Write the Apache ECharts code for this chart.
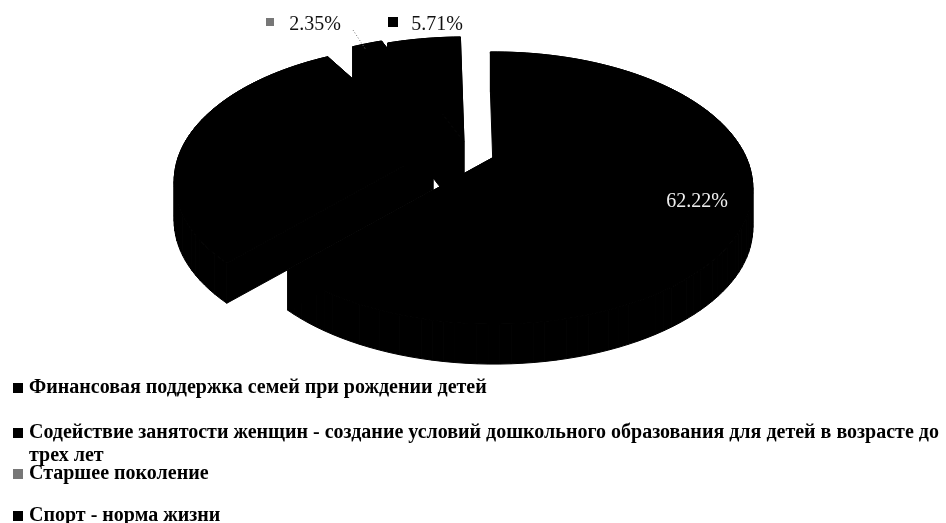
<!DOCTYPE html>
<html>
<head>
<meta charset="utf-8">
<style>html,body{margin:0;padding:0;background:#fff}#c{width:946px;height:523px}</style>
<script src="https://cdn.jsdelivr.net/npm/echarts@6/dist/echarts.min.js"></script>
</head>
<body>
<div id="c"></div>
<script>
const categories = [
  'Финансовая поддержка семей при рождении детей',
  'Содействие занятости женщин - создание условий дошкольного образования для детей в возрасте до',
  'Старшее поколение',
  'Спорт - норма жизни'
];
const categoryTail = 'трех лет';
const values = [62.22, 29.72, 2.35, 5.71];
const shownLabels = [true, false, true, true];

// Drawing style of the tilted, exploded pie
const firstAngle = -1, radiusX = 252, radiusY = 129, tilt = 0.228;
const depths = [40, 40, 40, 76];
const apexes = [[494,157],[433,150],[458,140],[464,142]];
const labelPlaces = [[697,202],null,[315,25],[437,25]];
const keyPlaces = [null,null,[270,22],[393,22]];
const colors = ['#000','#000','#000','#000'];
const keyColors = ['#000','#000','#777','#000'];
const font = '"Liberation Serif", serif';

function project(i, deg) {
  const t = deg * Math.PI / 180, u = Math.sin(t), v = -Math.cos(t), w = 1 - tilt * v;
  return [apexes[i][0] + radiusX * u / w, apexes[i][1] + radiusY * v / w];
}
const total = values.reduce((a, b) => a + b, 0);
function sliceShape(i) {
  let from = firstAngle;
  for (let k = 0; k < i; k++) from += values[k] / total * 360;
  const sweep = values[i] / total * 360, rim = [];
  const steps = Math.max(6, Math.ceil(sweep / 2));
  for (let s = 0; s <= steps; s++) rim.push(project(i, from + sweep * s / steps));
  const outline = [apexes[i]].concat(rim);
  const fill = { fill: colors[i], stroke: colors[i], lineWidth: 1 };
  const children = [];
  outline.forEach((p, n) => {
    const q = outline[(n + 1) % outline.length];
    children.push({ type: 'polygon', shape: { points: [p, q, [q[0], q[1] + depths[i]], [p[0], p[1] + depths[i]]] }, style: fill });
  });
  children.push({ type: 'polygon', shape: { points: outline }, style: fill });
  return children;
}
function marks(i) {
  const out = [];
  if (!shownLabels[i]) return out;
  out.push({
    type: 'text', z2: 10,
    style: { x: labelPlaces[i][0], y: labelPlaces[i][1], text: values[i].toFixed(2) + '%',
      align: 'center', verticalAlign: 'middle', font: '20px ' + font, fill: i === 0 ? '#eee' : '#111' }
  });
  if (keyPlaces[i]) {
    const size = i === 2 ? 8 : 10;
    out.push({ type: 'rect', z2: 10, shape: { x: keyPlaces[i][0] - size / 2, y: keyPlaces[i][1] - size / 2, width: size, height: size },
      style: { fill: keyColors[i] } });
  }
  if (i === 2) {
    out.push({ type: 'line', z2: 10, shape: { x1: 353, y1: 30, x2: 366, y2: 50 },
      style: { stroke: '#777', lineWidth: 1, lineDash: [1, 2] } });
  }
  return out;
}

const legendTops = [389, 434, 475, 517];
const chart = echarts.init(document.getElementById('c'), null, { renderer: 'canvas' });
chart.setOption({
  animation: false,
  backgroundColor: '#fff',
  legend: categories.map((name, i) => ({
    data: [{ name, itemStyle: { color: keyColors[i] } }],
    left: 13, top: legendTops[i] - 11, padding: 0,
    itemWidth: 10, itemHeight: 10, icon: 'rect', selectedMode: false,
    textStyle: { fontFamily: font, fontSize: 20, fontWeight: 'bold', color: '#000', padding: [0, 0, 0, 1] }
  })),
  graphic: [{
    type: 'text', left: 29, top: 446,
    style: { text: categoryTail, font: 'bold 20px ' + font, fill: '#000' }
  }],
  series: categories.map((name, i) => ({
    type: 'custom', name, coordinateSystem: 'none', silent: true,
    data: [[values[i]]],
    itemStyle: { color: colors[i] },
    renderItem: () => ({ type: 'group', children: sliceShape(i).concat(marks(i)) })
  }))
});
</script>
</body>
</html>
